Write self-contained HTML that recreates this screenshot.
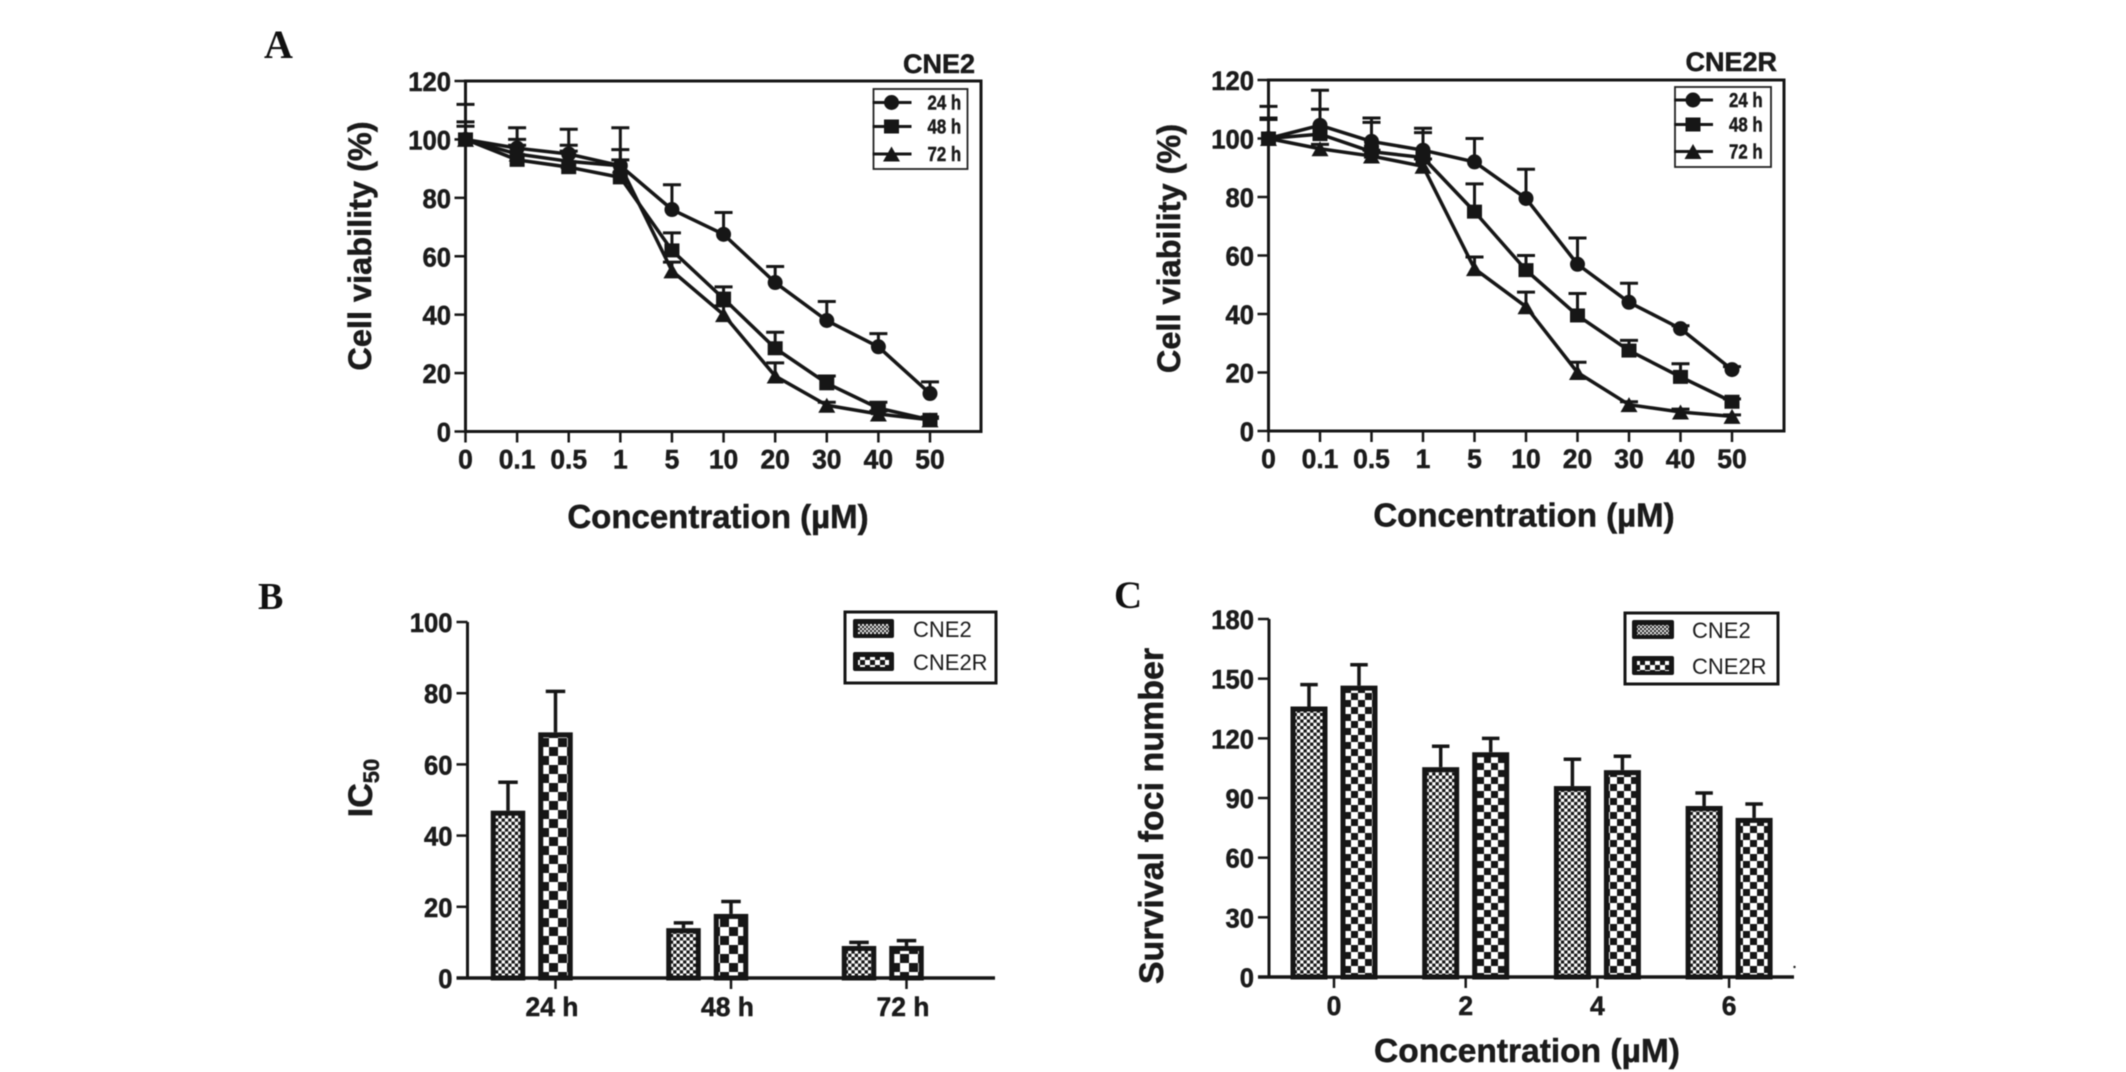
<!DOCTYPE html>
<html lang="en">
<head>
<meta charset="utf-8">
<title>Cell viability, IC50 and survival foci charts</title>
<style>
  html, body { margin: 0; padding: 0; background: #fff; }
  body { width: 2126px; height: 1072px; overflow: hidden; }
  svg { display: block; filter: blur(0.55px); }
  text { font-family: "Liberation Sans", sans-serif; fill: #1b1b1b; }
  .bold, text[font-weight="700"] { font-weight: 700; stroke: #1b1b1b; stroke-width: 0.5px; }
  .letter { font-family: "Liberation Serif", serif; font-weight: 700; fill: #111; }
</style>
</head>
<body>
<svg id="figure" width="2126" height="1072" viewBox="0 0 2126 1072" xmlns="http://www.w3.org/2000/svg">
  <defs>
    <pattern id="fine-a" width="6.6" height="6.6" patternUnits="userSpaceOnUse">
      <rect width="6.6" height="6.6" fill="#fff"/><rect width="3.3" height="3.3" fill="#161616"/><rect x="3.3" y="3.3" width="3.3" height="3.3" fill="#161616"/>
    </pattern>
    <pattern id="coarse-b" width="18" height="18" patternUnits="userSpaceOnUse">
      <rect width="18" height="18" fill="#fff"/><rect width="9" height="9" fill="#161616"/><rect x="9" y="9" width="9" height="9" fill="#161616"/>
    </pattern>
    <pattern id="coarse-c" width="14" height="14" patternUnits="userSpaceOnUse">
      <rect width="14" height="14" fill="#fff"/><rect width="7" height="7" fill="#161616"/><rect x="7" y="7" width="7" height="7" fill="#161616"/>
    </pattern>
    <pattern id="swatch-fine" width="4" height="4" patternUnits="userSpaceOnUse">
      <rect width="4" height="4" fill="#eee"/><rect width="2" height="2" fill="#222"/><rect x="2" y="2" width="2" height="2" fill="#222"/>
    </pattern>
    <pattern id="swatch-coarse" width="10" height="10" patternUnits="userSpaceOnUse">
      <rect width="10" height="10" fill="#fff"/><rect width="5" height="5" fill="#161616"/><rect x="5" y="5" width="5" height="5" fill="#161616"/>
    </pattern>
  </defs>

  <text class="letter" x="264" y="58" font-size="40">A</text>
  <text class="letter" x="258" y="609" font-size="38">B</text>
  <text class="letter" x="1114" y="608" font-size="39">C</text>

  <text class="bold" x="975" y="73" font-size="27" text-anchor="end">CNE2</text>
  <text class="bold" x="1777" y="71" font-size="27" text-anchor="end">CNE2R</text>

  <text class="bold" transform="translate(371 246) rotate(-90)" font-size="32.5" text-anchor="middle">Cell viability (%)</text>
  <text class="bold" transform="translate(1180 248.5) rotate(-90)" font-size="32.5" text-anchor="middle">Cell viability (%)</text>
  <text class="bold" x="718" y="528" font-size="33" text-anchor="middle">Concentration (µM)</text>
  <text class="bold" x="1524" y="526.5" font-size="33" text-anchor="middle">Concentration (µM)</text>

  <text class="bold" transform="translate(372 788) rotate(-90)" font-size="34" text-anchor="middle">IC<tspan font-size="22" dy="7">50</tspan></text>
  <text class="bold" transform="translate(1163 816) rotate(-90)" font-size="34" text-anchor="middle">Survival foci number</text>
  <text class="bold" x="1527" y="1062" font-size="33.5" text-anchor="middle">Concentration (µM)</text>

  <circle cx="1794.5" cy="967" r="1.2" fill="#222"/>

  <g id="chart-cne2"></g>
  <g id="chart-cne2r"></g>
  <g id="chart-ic50"></g>
  <g id="chart-foci"></g>
</svg>

<script>
// ---- data ----
const concentrationLabels = ['0', '0.1', '0.5', '1', '5', '10', '20', '30', '40', '50'];
const viabilityTicks = [0, 20, 40, 60, 80, 100, 120];
const timeSeriesNames = ['24 h', '48 h', '72 h'];

const cne2Mean24 = [100, 97, 95, 91, 76, 67.5, 51, 38, 29, 13];
const cne2Upper24 = [112, 104, 103.5, 104, 84.5, 75, 56.5, 44.5, 33.5, 17];
const cne2Mean48 = [100, 93, 90.5, 87, 62, 45.5, 28.5, 16.5, 8, 4];
const cne2Upper48 = [106, 100, 98, 96.5, 68, 49.5, 34, 19, 10, 5];
const cne2Mean72 = [100, 95, 92.5, 91, 55, 40, 19, 9, 6, 4];
const cne2Upper72 = [104.5, 98, 96, 93, 58, 43, 23.5, 10, 7, 4.5];

const cne2rMean24 = [100, 104.5, 99, 96, 92, 79.5, 57, 44, 35, 21];
const cne2rUpper24 = [111, 116.5, 107, 103.5, 100, 89.5, 66, 50.5, 36, 22];
const cne2rMean48 = [100, 101.5, 95.5, 93.5, 75, 55, 39.5, 27.5, 18.5, 10];
const cne2rUpper48 = [107, 110, 105.5, 102, 84.5, 60, 47, 31, 23, 11];
const cne2rMean72 = [100, 96.5, 94, 90.5, 55.5, 42.5, 20, 9, 6.5, 5];
const cne2rUpper72 = [106.5, 98, 96, 93, 59.5, 47.5, 23.5, 10, 7.5, 5.5];

const ic50Categories = ['24 h', '48 h', '72 h'];
const ic50Ticks = [0, 20, 40, 60, 80, 100];
const ic50Cne2 = [47, 14, 9];
const ic50Cne2Upper = [55, 15.5, 10];
const ic50Cne2r = [69, 18, 9];
const ic50Cne2rUpper = [80.5, 21.5, 10.5];

const fociCategories = ['0', '2', '4', '6'];
const fociTicks = [0, 30, 60, 90, 120, 150, 180];
const fociCne2 = [136, 105.5, 96, 86];
const fociCne2Upper = [147, 116, 109.5, 92.5];
const fociCne2r = [146.5, 113, 104, 80];
const fociCne2rUpper = [157, 120, 111, 87];

// ---- helpers ----
const NS = 'http://www.w3.org/2000/svg';
const INK = '#161616';

function shape(tag, parent, props) {
  const el = document.createElementNS(NS, tag);
  for (const k in props) el.setAttribute(k, props[k]);
  parent.appendChild(el);
  return el;
}

function label(parent, str, x, y, size, anchor, weight, sx) {
  const el = shape('text', parent, {
    transform: 'translate(' + x + ' ' + y + ') scale(' + sx + ' 1)',
    'font-size': size,
    'text-anchor': anchor,
    'font-weight': weight
  });
  el.textContent = str;
  return el;
}

function seg(parent, x1, y1, x2, y2, w) {
  return shape('line', parent, { x1: x1, y1: y1, x2: x2, y2: y2, stroke: INK, 'stroke-width': w });
}

function marker(parent, kind, cx, cy) {
  if (kind === 0) {
    return shape('circle', parent, { cx: cx, cy: cy, r: 7.5, fill: INK });
  }
  if (kind === 1) {
    return shape('rect', parent, { x: cx - 7.5, y: cy - 7, width: 15, height: 14, fill: INK });
  }
  return shape('path', parent, { d: 'M' + cx + ' ' + (cy - 7.5) + 'l8.5 15h-17z', fill: INK });
}

// ---- line charts ----
function drawLineChart(rootId, prefix, means, uppers, box, leg) {
  const root = document.getElementById(rootId);
  const xPos = i => box.x0 + (box.xN - box.x0) * i / (concentrationLabels.length - 1);
  const yPos = v => box.y0 - (box.y0 - box.yTop) * v / 120;

  const frame = shape('rect', root, { x: box.x0, y: box.yTop, width: box.right - box.x0, height: box.y0 - box.yTop, fill: 'none', stroke: INK, 'stroke-width': 3 });
  
  

  viabilityTicks.forEach(v => {
    const tick = seg(root, box.x0 - 11, yPos(v), box.x0, yPos(v), 2.5);
    
    
    const t = label(root, String(v), box.x0 - 14.5, yPos(v) + 10, 27, 'end', 700, 0.95);
    
    
  });
  concentrationLabels.forEach((c, i) => {
    const tick = seg(root, xPos(i), box.y0, xPos(i), box.y0 + 11, 2.5);
    
    
    const t = label(root, c, xPos(i), box.labelY, 27, 'middle', 700, 0.98);
    
    
  });

  means.forEach((series, s) => {
    const g = shape('g', root, {});
    
    
    series.forEach((v, i) => {
      const stem = seg(g, xPos(i), yPos(v), xPos(i), yPos(uppers[s][i]), 3);
      
      
      const cap = seg(g, xPos(i) - 9, yPos(uppers[s][i]), xPos(i) + 9, yPos(uppers[s][i]), 3);
      
      
    });
    const line = shape('polyline', g, {
      points: series.map((v, i) => xPos(i) + ',' + yPos(v)).join(' '),
      fill: 'none', stroke: INK, 'stroke-width': 3.5, 'stroke-linejoin': 'round'
    });
    
    
    series.forEach((v, i) => {
      const m = marker(g, s, xPos(i), yPos(v));
      
      
    });
  });

  const lg = shape('g', root, {});
  
  
  const lb = shape('rect', lg, { x: leg.x, y: leg.y, width: leg.w, height: leg.h, fill: 'none', stroke: '#222', 'stroke-width': 1.8 });
  
  
  timeSeriesNames.forEach((name, s) => {
    const ly = leg.rows[s];
    const sw = seg(lg, leg.x - 1, ly, leg.x + 38, ly, 3);
    
    
    const m = marker(lg, s, leg.x + 18, ly);
    
    
    const t = label(lg, name, leg.x + 54, ly + 7, 20, 'start', 700, 0.84);
    
    
  });
}

// ---- bar charts ----
function drawBarChart(rootId, prefix, cats, ticks, maxV, valsA, upA, valsB, upB, box, leg) {
  const root = document.getElementById(rootId);
  const xPos = i => box.first + box.step * i;
  const yPos = v => box.y0 - (box.y0 - box.yTop) * v / maxV;

  function bar(v, upper, cx, fill, name) {
    const g = shape('g', root, {});
    
    
    const stem = seg(g, cx, yPos(v), cx, yPos(upper), 3.5);
    
    
    const cap = seg(g, cx - box.cap / 2, yPos(upper), cx + box.cap / 2, yPos(upper), 3.5);
    
    
    const r = shape('rect', g, {
      x: cx - box.barW / 2 + 2.5, y: yPos(v) + 2.5,
      width: box.barW - 5, height: Math.max(0, box.y0 - yPos(v) - 2.5),
      fill: fill, stroke: INK, 'stroke-width': 5
    });
    
    
  }

  cats.forEach((c, i) => {
    bar(valsA[i], upA[i], xPos(i) + box.offA, 'url(#fine-a)', prefix + '-bar-cne2-' + c.replace(' ', ''));
    bar(valsB[i], upB[i], xPos(i) + box.offB, 'url(' + box.coarse + ')', prefix + '-bar-cne2r-' + c.replace(' ', ''));
    const tick = seg(root, xPos(i), box.y0, xPos(i), box.y0 + 11, 2.5);
    
    
    const t = label(root, c, xPos(i) + box.labelShift, box.labelY, 27, 'middle', 700, 0.98);
    
    
  });

  const yAxis = seg(root, box.axis, box.yTop, box.axis, box.y0, 3);
  
  
  const xAxis = seg(root, box.axis - 11, box.y0, box.right, box.y0, 3.5);
  
  

  ticks.forEach(v => {
    const tick = seg(root, box.axis - 11, yPos(v), box.axis, yPos(v), 2.5);
    
    
    const t = label(root, String(v), box.axis - 15, yPos(v) + 10, 27, 'end', 700, 0.95);
    
    
  });

  const lg = shape('g', root, {});
  
  
  const lb = shape('rect', lg, { x: leg.x, y: leg.y, width: leg.w, height: leg.h, fill: '#fff', stroke: INK, 'stroke-width': 3 });
  
  
  ['CNE2', 'CNE2R'].forEach((name, s) => {
    const sy = leg.rows[s];
    const outer = shape('rect', lg, { x: leg.swX, y: sy, width: leg.swW, height: 19, rx: 2, fill: INK });
    
    
    const inner = shape('rect', lg, { x: leg.swX + 5, y: sy + 5, width: leg.swW - 10, height: 10, fill: s === 0 ? 'url(#swatch-fine)' : 'url(#swatch-coarse)' });
    
    
    const t = label(lg, name, leg.textX, sy + 18, 22, 'start', 400, 1);
    
    
  });
}

// ---- render ----
drawLineChart('chart-cne2', 'cne2',
  [cne2Mean24, cne2Mean48, cne2Mean72], [cne2Upper24, cne2Upper48, cne2Upper72],
  { x0: 465.5, xN: 930, right: 981, yTop: 81, y0: 431.5, labelY: 468.5 },
  { x: 873.5, y: 89, w: 94, h: 80, rows: [102.5, 126.5, 154] });

drawLineChart('chart-cne2r', 'cne2r',
  [cne2rMean24, cne2rMean48, cne2rMean72], [cne2rUpper24, cne2rUpper48, cne2rUpper72],
  { x0: 1268.5, xN: 1732, right: 1784, yTop: 80, y0: 431, labelY: 468 },
  { x: 1675, y: 87, w: 96, h: 80, rows: [100, 124.5, 151.5] });

drawBarChart('chart-ic50', 'ic50', ic50Categories, ic50Ticks, 100,
  ic50Cne2, ic50Cne2Upper, ic50Cne2r, ic50Cne2rUpper,
  { first: 555.5, step: 175.5, offA: -47.5, offB: 0, barW: 34.5, cap: 19.5, coarse: '#coarse-b', axis: 467.5, right: 995, yTop: 622, y0: 978, labelY: 1016, labelShift: -3.5 },
  { x: 845, y: 612, w: 151, h: 71, swX: 853, swW: 41, textX: 913, rows: [619, 652] });

drawBarChart('chart-foci', 'foci', fociCategories, fociTicks, 180,
  fociCne2, fociCne2Upper, fociCne2r, fociCne2rUpper,
  { first: 1334, step: 131.7, offA: -25, offB: 25, barW: 37, cap: 17.5, coarse: '#coarse-c', axis: 1269, right: 1794, yTop: 619, y0: 977, labelY: 1015, labelShift: 0 },
  { x: 1625, y: 613, w: 153, h: 71, swX: 1632, swW: 42, textX: 1692, rows: [620, 656] });
</script>
</body>
</html>
